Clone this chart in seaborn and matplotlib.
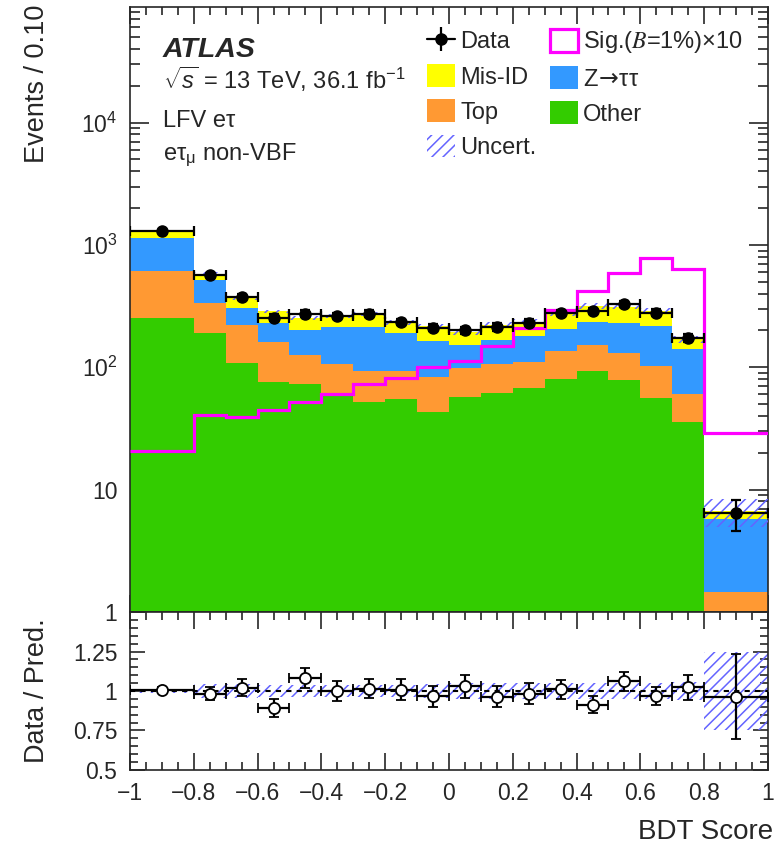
import numpy as np
import pandas as pd
import matplotlib
matplotlib.use("Agg")
import matplotlib.pyplot as plt
import seaborn as sns
from matplotlib.patches import Patch
from matplotlib.lines import Line2D
from matplotlib.ticker import MultipleLocator, LogLocator, FuncFormatter, FixedLocator, NullFormatter

# ---------------- data (Events / 0.10) ----------------
bin_edges = [-1.0, -0.8, -0.7, -0.6, -0.5, -0.4, -0.3, -0.2, -0.1, 0.0,
             0.1, 0.2, 0.3, 0.4, 0.5, 0.6, 0.7, 0.8, 1.0]
other = [255, 189, 109, 76, 73, 60, 52, 55, 43, 57, 62, 68, 80, 94, 79, 56, 36, 0.6]
top = [359, 149, 113, 85, 53, 47, 42, 39, 40, 42, 44, 43, 56, 57, 53, 47, 25, 0.87]
ztautau = [535, 177, 86, 68, 76, 105, 120, 96, 81, 54, 61, 70, 71, 85, 99, 115, 80, 4.26]
misid = [149, 65, 60, 57, 52, 51, 57, 43, 54, 42, 55, 55, 67, 81, 82, 71, 28, 0.93]
signal_x10 = [20.5, 41, 39, 45, 52, 61, 73, 82, 101, 113, 150, 211, 295, 422, 588, 789, 634, 28.9]
data = [1304, 570, 376, 255, 275, 263, 275, 235, 211, 201, 214, 232, 277, 289, 332, 280, 173, 6.41]
unc_frac = [0.015, 0.045, 0.045, 0.035, 0.035, 0.04, 0.04, 0.04, 0.045, 0.05,
            0.05, 0.05, 0.05, 0.05, 0.05, 0.05, 0.06, 0.25]

proc_names = ["Mis-ID", "Z\u2192\u03c4\u03c4", "Top", "Other"]
proc_colors = ["#ffff00", "#3399ff", "#ff9933", "#33cc00"]
sig_color = "#ff00ff"
hatch_color = "#6464ff"

# ---------------- style ----------------
sns.set_theme(style="ticks")
plt.rcParams["font.family"] = ["Liberation Sans", "DejaVu Sans"]
plt.rcParams["mathtext.fontset"] = "custom"
plt.rcParams["mathtext.rm"] = "Liberation Sans"
plt.rcParams["mathtext.it"] = "Liberation Sans:italic"
plt.rcParams["mathtext.bf"] = "Liberation Sans:bold"
plt.rcParams["hatch.linewidth"] = 1.1
plt.rcParams["axes.linewidth"] = 1.2

edges = np.array(bin_edges)
centers = 0.5 * (edges[:-1] + edges[1:])
widths = np.diff(edges)
n = len(centers)

comp = [np.array(misid), np.array(ztautau), np.array(top), np.array(other)]
total = sum(comp)
data_a = np.array(data, dtype=float)
scale = widths / 0.1
data_err = np.sqrt(data_a * scale) / scale
frac = np.array(unc_frac)

fig = plt.figure(figsize=(7.77, 8.44), dpi=100)
ax = fig.add_axes([0.1673, 0.27488, 0.8211, 0.71683])
rax = fig.add_axes([0.1673, 0.08768, 0.8211, 0.1872])

# stacked backgrounds through seaborn
df = pd.DataFrame({
    "x": np.tile(centers, 4),
    "w": np.concatenate(comp),
    "proc": np.repeat(proc_names, n),
})
sns.histplot(data=df, x="x", weights="w", hue="proc", hue_order=proc_names,
             palette=dict(zip(proc_names, proc_colors)), multiple="stack",
             bins=list(bin_edges), element="bars", alpha=1, linewidth=0, shrink=1,
             legend=False, ax=ax)
ax.set_yscale("log")

# uncertainty band
ax.bar(centers, 2 * total * frac, bottom=total * (1 - frac), width=widths,
       fill=False, hatch="///", edgecolor=hatch_color, linewidth=0, zorder=3)

# signal
ax.stairs(signal_x10, edges, baseline=None, color=sig_color, lw=2.3, zorder=4)

# data
ax.errorbar(centers, data_a, xerr=widths / 2, yerr=data_err, fmt="o",
            color="black", ms=8, elinewidth=1.6, capsize=3.5, capthick=1.6,
            zorder=5)

ax.set_xlim(-1, 1)
ax.set_ylim(1, 8.8e4)
ax.set_xlabel("")
ax.set_ylabel("")

def log_fmt(v, p):
    e = int(round(np.log10(v)))
    if e == 0:
        return "1"
    if e == 1:
        return "10"
    return r"$\mathregular{10^{%d}}$" % e

ax.yaxis.set_major_locator(LogLocator(base=10, numticks=10))
ax.yaxis.set_minor_locator(LogLocator(base=10, subs=np.arange(2, 10), numticks=20))
ax.yaxis.set_major_formatter(FuncFormatter(log_fmt))
ax.yaxis.set_minor_formatter(NullFormatter())
for a in (ax, rax):
    a.xaxis.set_major_locator(MultipleLocator(0.2))
    a.xaxis.set_minor_locator(MultipleLocator(0.05))
    a.tick_params(which="both", direction="in", top=True, right=True,
                  labelsize=16.5, width=1.2, pad=9)
ax.tick_params(which="major", axis="x", length=12)
ax.tick_params(which="minor", axis="x", length=6)
ax.tick_params(which="major", axis="y", length=14)
ax.tick_params(which="minor", axis="y", length=7)
ax.tick_params(labelbottom=False)
for s in ax.spines.values():
    s.set_linewidth(1.2)

# ---------------- ratio panel ----------------
ratio = data_a / total
ratio_err = data_err / total
rax.bar(centers, 2 * frac, bottom=1 - frac, width=widths, fill=False,
        hatch="///", edgecolor=hatch_color, linewidth=0, zorder=2)
rax.axhline(1, color="black", ls=(0, (2.5, 2.5)), lw=1.5, zorder=3)
rax.errorbar(centers, ratio, xerr=widths / 2, yerr=ratio_err, fmt="o",
             color="black", mfc="white", mec="black", mew=1.3, ms=8,
             elinewidth=1.6, capsize=3.5, capthick=1.6, zorder=4)
rax.set_xlim(-1, 1)
rax.set_ylim(0.5, 1.5)
rax.yaxis.set_major_locator(FixedLocator([0.5, 0.75, 1.0, 1.25, 1.5]))
rax.yaxis.set_minor_locator(MultipleLocator(0.05))
rax.yaxis.set_major_formatter(FuncFormatter(lambda v, p: "" if v > 1.4 else ("%g" % v)))
rax.xaxis.set_major_formatter(FuncFormatter(
    lambda v, p: ("%g" % round(v, 2)).replace("-", "\u2212") if abs(v) > 1e-9 else "0"))
rax.tick_params(which="major", axis="x", length=12)
rax.tick_params(which="minor", axis="x", length=6)
rax.tick_params(which="major", axis="y", length=11)
rax.tick_params(which="minor", axis="y", length=6)
rax.set_xlabel("")
rax.set_ylabel("")

# ---------------- texts ----------------
W, H = 777.0, 844.0
def fx(x):
    return x / W
def fy(y):
    return 1 - y / H

fig.text(fx(773), fy(839), "BDT Score", ha="right", va="baseline", fontsize=20)
fig.text(fx(37), fy(5), "Events / 0.10", rotation=90, ha="center", va="top", fontsize=19.5)
fig.text(fx(37), fy(691), "Data / Pred.", rotation=90, ha="center", va="center", fontsize=19.5)

fig.text(fx(163), fy(57), "ATLAS", fontsize=20.5, fontweight="bold", fontstyle="italic",
         ha="left", va="baseline")
fig.text(fx(163), fy(89), r"$\sqrt{s}$ = 13 TeV, 36.1 fb$^{-1}$", fontsize=17,
         ha="left", va="baseline")
fig.text(fx(163), fy(127), "LFV e\u03c4", fontsize=17, ha="left", va="baseline")
fig.text(fx(163), fy(160), r"e$\mathrm{\tau_{\mu}}$ non-VBF", fontsize=17,
         ha="left", va="baseline")

# ---------------- legend ----------------
h_data = (Line2D([], [], color="black", lw=1.6, marker="o", ms=8),
          Line2D([], [], color="black", ls="none", marker="|", ms=17, mew=1.6))
h_sig = Patch(facecolor="none", edgecolor=sig_color, lw=2.3)
h_unc = Patch(facecolor="none", edgecolor=hatch_color, hatch="///", lw=0)
h_proc = [Patch(facecolor=c, edgecolor="none") for c in proc_colors]
handles = [h_data, h_proc[0], h_proc[2], h_unc, h_sig, h_proc[1], h_proc[3]]
labels = ["Data", "Mis-ID", "Top", "Uncert.", "Sig.($B$=1%)\u00d710",
          r"Z$\!\rightarrow\!$ττ", "Other"]
leg = fig.legend(handles, labels, ncol=2, loc="upper left",
                 bbox_to_anchor=(fx(427), fy(29)), frameon=False, fontsize=17,
                 handlelength=1.2, handleheight=1.1, labelspacing=0.46,
                 columnspacing=0.55, handletextpad=0.22, borderaxespad=0,
                 borderpad=0)
for t in leg.get_texts():
    s = t.get_text()
    if "$B$" in s:
        t.set_math_fontfamily("stix")
    elif "rightarrow" in s:
        t.set_math_fontfamily("dejavusans")

fig.savefig("out.png", dpi=100)
